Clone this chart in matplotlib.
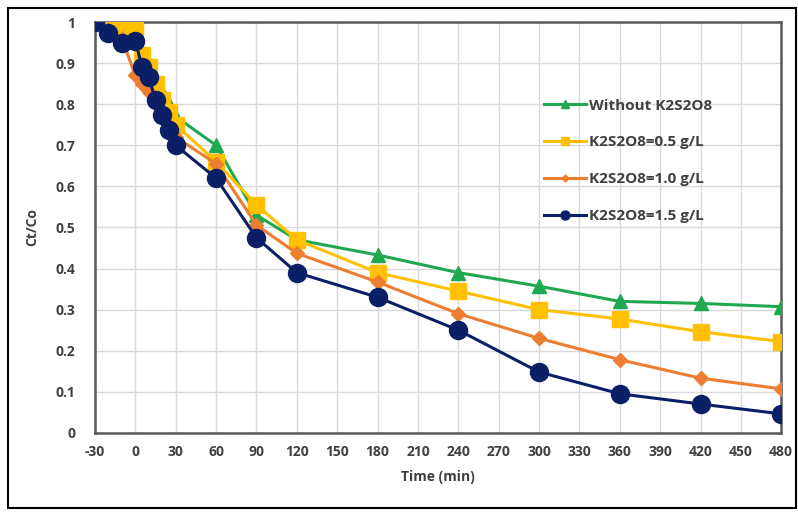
import matplotlib
matplotlib.use("Agg")
import matplotlib.pyplot as plt
from matplotlib.patches import Rectangle

# time points (min), dark phase starts at -30
time = [-30, -20, -10, 0, 5, 10, 15, 20, 25, 30, 60, 90, 120, 180, 240, 300, 360, 420, 480]

# Ct/Co
without_k2s2o8 = [1.0, 1.0, 0.99, 0.98, 0.93, 0.90, 0.86, 0.83, 0.80, 0.77, 0.70, 0.53, 0.47,
                  0.433, 0.39, 0.357, 0.32, 0.315, 0.307]
k2s2o8_05 = [1.0, 0.995, 0.99, 0.98, 0.92, 0.89, 0.85, 0.81, 0.78, 0.75, 0.66, 0.555, 0.47,
             0.39, 0.345, 0.30, 0.277, 0.246, 0.222]
k2s2o8_10 = [1.0, 0.98, 0.96, 0.87, 0.85, 0.83, 0.80, 0.77, 0.75, 0.72, 0.655, 0.506, 0.437,
             0.367, 0.29, 0.23, 0.178, 0.133, 0.107]
k2s2o8_15 = [1.0, 0.973, 0.95, 0.955, 0.89, 0.866, 0.81, 0.775, 0.737, 0.70, 0.62, 0.475, 0.39,
             0.33, 0.25, 0.148, 0.095, 0.07, 0.046]

labels = ["Without K2S2O8", "K2S2O8=0.5 g/L", "K2S2O8=1.0 g/L", "K2S2O8=1.5 g/L"]
xticks = list(range(-30, 481, 30))
yticks = [0, 0.1, 0.2, 0.3, 0.4, 0.5, 0.6, 0.7, 0.8, 0.9, 1]
yticklabels = ["0", "0.1", "0.2", "0.3", "0.4", "0.5", "0.6", "0.7", "0.8", "0.9", "1"]

plt.rcParams['font.family'] = ['Open Sans', 'DejaVu Sans']
plt.rcParams['axes.unicode_minus'] = False
txt = '#404040'

fig = plt.figure(figsize=(7.98, 5.14), dpi=100)
ax = fig.add_axes([0.119, 0.158, 0.860, 0.799])

ax.plot(time, without_k2s2o8, color='#1fa84f', lw=2.2, marker='^', ms=10.5, label=labels[0], zorder=3)
ax.plot(time, k2s2o8_05, color='#ffc000', lw=2.2, marker='s', ms=12, label=labels[1], zorder=4)
ax.plot(time, k2s2o8_10, color='#ed7d31', lw=2.2, marker='D', ms=7, label=labels[2], zorder=5)
ax.plot(time, k2s2o8_15, color='#0a1f66', lw=2.2, marker='o', ms=13, label=labels[3], zorder=6)

ax.set_xlim(-30, 480)
ax.set_ylim(0, 1)
ax.set_xticks(xticks)
ax.set_yticks(yticks)
ax.set_yticklabels(yticklabels)
ax.grid(True, color='#d9d9d9', lw=1)
ax.set_axisbelow(True)
ax.tick_params(axis='x', length=0, labelsize=10, labelcolor=txt, pad=9)
ax.tick_params(axis='y', length=0, labelsize=10, labelcolor=txt, pad=14)
for lab in ax.get_xticklabels() + ax.get_yticklabels():
    lab.set_fontweight('bold')
for s in ax.spines.values():
    s.set_color('#595959')
    s.set_linewidth(1.8)

ax.set_xlabel("Time (min)", fontsize=10, fontweight='bold', color=txt, labelpad=8)
ax.set_ylabel("Ct/Co", fontsize=10, fontweight='bold', color=txt, labelpad=12)

leg = ax.legend(loc='center left', bbox_to_anchor=(0.655, 0.662), frameon=False,
                borderaxespad=0, borderpad=0, labelspacing=1.5, handlelength=2.7,
                handletextpad=0.2, markerscale=0.5, prop={'size': 11, 'weight': 'bold'})
for t in leg.get_texts():
    t.set_color(txt)

# outer frame round the whole picture
fig.patches.append(Rectangle((0.010, 0.012), 0.988, 0.972, transform=fig.transFigure,
                             fill=False, edgecolor='black', lw=1.5))

fig.savefig("out.png", dpi=100)
